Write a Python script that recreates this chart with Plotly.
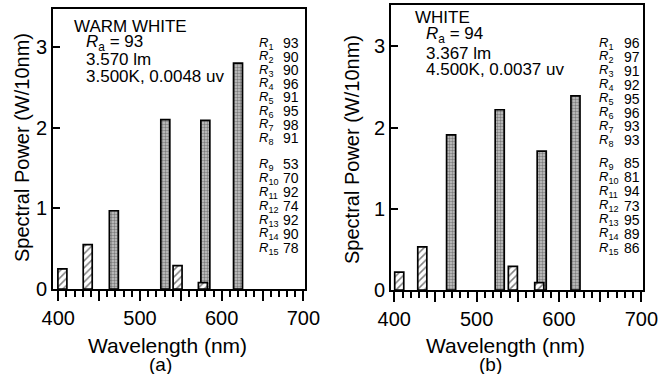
import plotly.graph_objects as go

# Emission line / phosphor band power (W per 10 nm) for the two lamp types
wl_line_a = [405, 436, 546, 577]
pw_line_a = [0.25, 0.55, 0.29, 0.08]
wl_band_a = [468, 531, 580, 620]
pw_band_a = [0.97, 2.10, 2.09, 2.80]

wl_line_b = [406, 434, 544, 576]
pw_line_b = [0.22, 0.53, 0.29, 0.09]
wl_band_b = [469, 528, 579, 620]
pw_band_b = [1.91, 2.22, 1.71, 2.39]

# Colour rendering indices R1..R15
ri_a = [93, 90, 90, 96, 91, 95, 98, 91, 53, 70, 92, 74, 92, 90, 78]
ri_b = [96, 97, 91, 92, 95, 96, 93, 93, 85, 81, 94, 73, 95, 89, 86]

info_a = ["WARM WHITE", "<i>R</i><sub>a</sub> = 93", "3.570 lm", "3.500K, 0.0048 uv"]
info_b = ["WHITE", "<i>R</i><sub>a</sub> = 94", "3.367 lm", "4.500K, 0.0037 uv"]

x_ticks = [400, 450, 500, 550, 600, 650, 700]
x_tick_text = ["400", "", "500", "", "600", "", "700"]
y_ticks = [0, 1, 2, 3]

W, H = 658, 374
FONT = "Liberation Sans, Arial, sans-serif"


def px(x):
    return x / W


def py(y):
    return 1 - y / H


fig = go.Figure()

band_marker = dict(color="#b0b0b0", line=dict(color="black", width=1.7),
                   pattern=dict(shape=".", fgcolor="#333333", bgcolor="#c8c8c8",
                                size=3, solidity=0.5))
line_marker = dict(color="white", line=dict(color="black", width=1.7),
                   pattern=dict(shape="/", fgcolor="black", bgcolor="white",
                                size=5, solidity=0.3))

for xa, ya, wb, pb, wl, pl in [("x", "y", wl_band_a, pw_band_a, wl_line_a, pw_line_a),
                               ("x2", "y2", wl_band_b, pw_band_b, wl_line_b, pw_line_b)]:
    fig.add_trace(go.Bar(x=wb, y=pb, width=11, marker=band_marker,
                         xaxis=xa, yaxis=ya, showlegend=False))
    fig.add_trace(go.Bar(x=wl, y=pl, width=11, marker=line_marker,
                         xaxis=xa, yaxis=ya, showlegend=False))

xcommon = dict(tickmode="array", tickvals=x_ticks, ticktext=x_tick_text,
               ticks="outside", ticklen=10, tickwidth=1.5, tickcolor="black",
               minor=dict(dtick=10, tick0=400, ticks="outside", ticklen=6,
                          tickwidth=1.5, tickcolor="black"),
               showline=True, linecolor="black", linewidth=2, mirror=True,
               showgrid=False, zeroline=False, automargin=False,
               ticklabeloverflow="allow",
               tickfont=dict(family=FONT, size=20, color="black"))
ycommon = dict(tickmode="array", tickvals=y_ticks, ticks="inside", ticklen=7,
               tickwidth=1.5, tickcolor="black",
               showline=True, linecolor="black", linewidth=2, mirror=True,
               showgrid=False, zeroline=False, automargin=False,
               tickfont=dict(family=FONT, size=20, color="black"))

fig.update_layout(
    width=W, height=H, margin=dict(l=0, r=0, t=0, b=0, autoexpand=False),
    paper_bgcolor="white", plot_bgcolor="white", barmode="overlay",
    xaxis=dict(domain=[px(53), px(305)], range=[393.5, 702], anchor="y", **xcommon),
    yaxis=dict(domain=[py(289), py(9)], range=[0, 3.47], anchor="x", **ycommon),
    xaxis2=dict(domain=[px(391), px(643)], range=[396, 702], anchor="y2", **xcommon),
    yaxis2=dict(domain=[py(290), py(5)], range=[0, 3.51], anchor="x2", **ycommon),
)

ann = []


def text(x, y, s, size, xanchor="left", angle=0):
    ann.append(dict(x=px(x), y=py(y), xref="paper", yref="paper", text=s,
                    showarrow=False, xanchor=xanchor, yanchor="middle", borderpad=0,
                    textangle=angle, font=dict(family=FONT, size=size, color="black")))


# Lamp description blocks
for (x0, x1, ys), info in [((73, 85, [26, 43, 60, 77]), info_a),
                           ((414, 425, [18, 35, 53, 70]), info_b)]:
    text(x0, ys[0], info[0], 17)
    for y, s in zip(ys[1:], info[1:]):
        text(x1, y, s, 17)

# Special colour rendering index columns
for ri, xl, xr, y1, dy1, y9, dy9 in [(ri_a, 258, 300, 43, 13.6, 164, 14.0),
                                      (ri_b, 598, 641, 43, 13.9, 163, 14.2)]:
    for i, v in enumerate(ri):
        y = y1 + i * dy1 if i < 8 else y9 + (i - 8) * dy9
        text(xl, y, f"<i>R</i><sub>{i + 1}</sub>", 13)
        text(xr, y, str(v), 14, xanchor="right")

# Axis titles and panel labels
for xc, ytc in [(22, 148), (352, 150)]:
    text(xc, ytc, "Spectral Power (W/10nm)", 20, xanchor="center", angle=-90)
for xc, xl, lab in [(167, 160, "(a)"), (505, 490, "(b)")]:
    text(xc, 345, "Wavelength (nm)", 21, xanchor="center")
    text(xl, 364, lab, 19, xanchor="center")

fig.update_layout(annotations=ann)
fig.write_html("out.html")
